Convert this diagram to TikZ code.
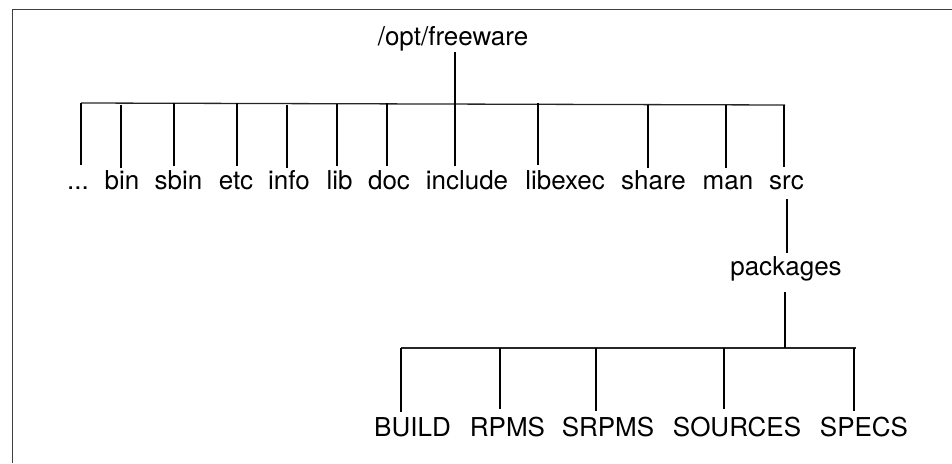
\documentclass[tikz,border=0pt]{standalone}
\usepackage{fontspec}
\setmainfont{TeX Gyre Heros}
\tikzset{
  x=1pt,y=-1pt,
  lbl/.style={inner sep=0pt,anchor=base,font=\fontsize{26}{26}\selectfont,text=black,text height=23pt,text depth=0pt},
  conn/.style={line width=1.5pt,black},
  bar/.style={line width=1.3pt,black!85},
  frame/.style={line width=1pt,black!75}
}
\begin{document}
\begin{tikzpicture}
\useasboundingbox (0,0) rectangle (952,463);
\coordinate (fa) at (12.5,463);
\coordinate (fb) at (12.5,9);
\coordinate (fc) at (952,9);
\draw[frame] (fa) -- (fb) -- (fc);
\node[lbl] (root) at (453,45) {/opt/freeware};
\node[lbl] (dots) at (78,189) {...};
\node[lbl] (bin) at (122,189) {bin};
\node[lbl] (sbin) at (178.5,189) {sbin};
\node[lbl] (etc) at (236,189) {etc};
\node[lbl] (info) at (289,189) {info};
\node[lbl] (lib) at (339.5,189) {lib};
\node[lbl] (doc) at (389,189) {doc};
\node[lbl] (include) at (467,189) {include};
\node[lbl] (libexec) at (565,189) {libexec};
\node[lbl] (share) at (653.5,189) {share};
\node[lbl] (man) at (728,189) {man};
\node[lbl] (src) at (786.5,189) {src};
\node[lbl] (packages) at (786,275) {packages};
\node[lbl] (build) at (412.5,436) {BUILD};
\node[lbl] (rpms) at (507.5,436) {RPMS};
\node[lbl] (srpms) at (608,436) {SRPMS};
\node[lbl] (sources) at (737,436) {SOURCES};
\node[lbl] (specs) at (864,436) {SPECS};
\coordinate (a0) at (81,103);
\coordinate (a1) at (785,105);
\coordinate (a2) at (121,104.5);
\coordinate (a3) at (174,103);
\coordinate (a4) at (237,103);
\coordinate (a5) at (287,104.5);
\coordinate (a6) at (337,103.5);
\coordinate (a7) at (387,103);
\coordinate (a9) at (538,103);
\coordinate (a10) at (648,104.5);
\coordinate (a11) at (726,105);
\coordinate (a12) at (784,105);
\coordinate (r0) at (455,52);
\coordinate (b0) at (401,348);
\coordinate (b1) at (856,348);
\coordinate (b2) at (500,348);
\coordinate (b3) at (596,348);
\coordinate (b4) at (724,348);
\coordinate (b5) at (854,348);
\coordinate (b6) at (785,348);
\coordinate (s0) at (787,199);
\coordinate (s1) at (787,253);
\coordinate (p0) at (785,292);
\draw[bar] (a0) -- (a1);
\draw[bar] (b0) -- (b1);
\draw[conn] (a0) -- ([yshift=1pt]a0 |- dots.north);
\draw[conn] (a2) -- ([yshift=-2pt]a2 |- bin.north);
\draw[conn] (a3) -- (a3 |- sbin.north);
\draw[conn] (a4) -- (a4 |- etc.north);
\draw[conn] (a5) -- ([yshift=-2pt]a5 |- info.north);
\draw[conn] (a6) -- (a6 |- lib.north);
\draw[conn] (a7) -- (a7 |- doc.north);
\draw[conn] (r0) -- (r0 |- include.north);
\draw[conn] (a9) -- ([yshift=1pt]a9 |- libexec.north);
\draw[conn] (a10) -- ([yshift=-2pt]a10 |- share.north);
\draw[conn] (a11) -- ([yshift=-2pt]a11 |- man.north);
\draw[conn] (a12) -- ([yshift=-1pt]a12 |- src.north);
\draw[conn] (s0) -- (s1);
\draw[conn] (p0) -- (b6);
\draw[conn] (b0) -- ([yshift=1pt]b0 |- build.north);
\draw[conn] (b2) -- ([yshift=4pt]b2 |- rpms.north);
\draw[conn] (b3) -- ([yshift=2pt]b3 |- srpms.north);
\draw[conn] (b4) -- ([yshift=4pt]b4 |- sources.north);
\draw[conn] (b5) -- ([yshift=2pt]b5 |- specs.north);
\end{tikzpicture}
\end{document}
